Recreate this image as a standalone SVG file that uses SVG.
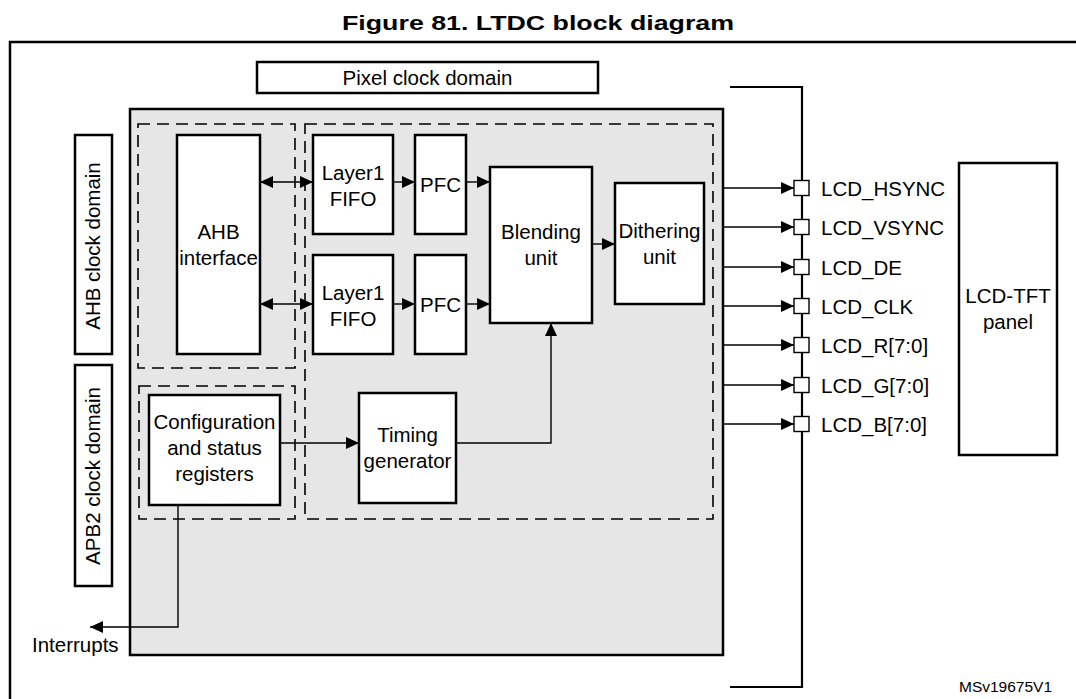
<svg xmlns="http://www.w3.org/2000/svg" width="1076" height="699" viewBox="0 0 1076 699">
<style>
text{font-family:"Liberation Sans",Arial,sans-serif;font-size:20.5px;fill:#000}
.c{text-anchor:middle}
.box{fill:#fff;stroke:#000;stroke-width:2.5}
.dash{fill:none;stroke:#000;stroke-width:1.6;stroke-dasharray:12 7}
.ln{fill:none;stroke:#000;stroke-width:1.4}
.pin{fill:#fff;stroke:#000;stroke-width:1.4}
</style>
<defs>
<marker id="ah" markerUnits="userSpaceOnUse" markerWidth="13" markerHeight="12" refX="13" refY="6" orient="auto-start-reverse"><path d="M0,0 L13,6 L0,12 z" fill="#000"/></marker>
</defs>
<rect width="1076" height="699" fill="#fff"/>
<text x="538" y="30" class="c" style="font-weight:bold;font-size:21px" textLength="392" lengthAdjust="spacingAndGlyphs">Figure 81. LTDC block diagram</text>
<path d="M10,699 V42 H1076" fill="none" stroke="#000" stroke-width="2.5"/>

<g id="pixel-domain-label"><rect x="257" y="62" width="341" height="31" class="box"/><text x="427.5" y="85" class="c">Pixel clock domain</text></g>
<g id="ahb-domain-label"><rect x="75" y="135" width="37" height="219" class="box"/><text transform="translate(100,246) rotate(-90)" class="c">AHB clock domain</text></g>
<g id="apb2-domain-label"><rect x="75" y="365" width="37" height="221" class="box"/><text transform="translate(100,476) rotate(-90)" class="c">APB2 clock domain</text></g>

<g id="ltdc"><rect x="130" y="109" width="593" height="546" fill="#e6e6e6" stroke="#000" stroke-width="2.5"/></g>
<g id="ahb-zone"><rect x="138" y="124" width="157" height="244" class="dash"/></g>
<g id="apb-zone"><rect x="139" y="386" width="156" height="133" class="dash"/></g>
<g id="pixel-zone"><rect x="305" y="124" width="408" height="395" class="dash"/></g>

<g id="ahb-interface"><rect x="177" y="135" width="83" height="219" class="box"/><text x="218.5" y="239" class="c">AHB</text><text x="218.5" y="265" class="c">interface</text></g>
<g id="fifo1"><rect x="313" y="135" width="80" height="99" class="box"/><text x="353" y="180" class="c">Layer1</text><text x="353" y="206" class="c">FIFO</text></g>
<g id="fifo2"><rect x="313" y="255" width="80" height="99" class="box"/><text x="353" y="300" class="c">Layer1</text><text x="353" y="326" class="c">FIFO</text></g>
<g id="pfc1"><rect x="415" y="135" width="51" height="99" class="box"/><text x="440.5" y="192" class="c">PFC</text></g>
<g id="pfc2"><rect x="415" y="255" width="51" height="99" class="box"/><text x="440.5" y="312" class="c">PFC</text></g>
<g id="blending"><rect x="490" y="167" width="102" height="156" class="box"/><text x="541" y="239" class="c">Blending</text><text x="541" y="265" class="c">unit</text></g>
<g id="dithering"><rect x="615" y="183" width="89" height="121" class="box"/><text x="659.5" y="238" class="c">Dithering</text><text x="659.5" y="264" class="c">unit</text></g>
<g id="config"><rect x="149" y="395" width="131" height="110" class="box"/><text x="214.5" y="429" class="c">Configuration</text><text x="214.5" y="455" class="c">and status</text><text x="214.5" y="481" class="c">registers</text></g>
<g id="timing"><rect x="359" y="393" width="97" height="110" class="box"/><text x="407.5" y="442" class="c">Timing</text><text x="407.5" y="468" class="c">generator</text></g>
<g id="panel"><rect x="959" y="163" width="98" height="292" class="box"/><text x="1008" y="303" class="c">LCD-TFT</text><text x="1008" y="329" class="c">panel</text></g>
<g id="interrupts"><text x="32" y="652">Interrupts</text></g>
<g id="bus"><path d="M730,87 H802 V687 H730" fill="none" stroke="#000" stroke-width="2.2"/></g>

<g id="connectors">
<path d="M260,182 H313" class="ln" marker-start="url(#ah)" marker-end="url(#ah)"/>
<path d="M260,304 H313" class="ln" marker-start="url(#ah)" marker-end="url(#ah)"/>
<path d="M393,182 H415" class="ln" marker-end="url(#ah)"/>
<path d="M393,304 H415" class="ln" marker-end="url(#ah)"/>
<path d="M466,182 H490" class="ln" marker-end="url(#ah)"/>
<path d="M466,304 H490" class="ln" marker-end="url(#ah)"/>
<path d="M592,244 H615" class="ln" marker-end="url(#ah)"/>
<path d="M280,443 H359" class="ln" marker-end="url(#ah)"/>
<path d="M456,443 H551 V323" class="ln" marker-end="url(#ah)"/>
<path d="M178,505 V627 H90" class="ln" marker-end="url(#ah)"/>
<path d="M723,188 H794" class="ln" marker-end="url(#ah)"/>
<path d="M723,227 H794" class="ln" marker-end="url(#ah)"/>
<path d="M723,267 H794" class="ln" marker-end="url(#ah)"/>
<path d="M723,306 H794" class="ln" marker-end="url(#ah)"/>
<path d="M723,345 H794" class="ln" marker-end="url(#ah)"/>
<path d="M723,385 H794" class="ln" marker-end="url(#ah)"/>
<path d="M723,424 H794" class="ln" marker-end="url(#ah)"/>
</g>

<g id="pins">
<rect x="794" y="180.5" width="15" height="15" class="pin"/><text x="821" y="195.5">LCD_HSYNC</text>
<rect x="794" y="219.5" width="15" height="15" class="pin"/><text x="821" y="234.5">LCD_VSYNC</text>
<rect x="794" y="259.5" width="15" height="15" class="pin"/><text x="821" y="274.5">LCD_DE</text>
<rect x="794" y="298.5" width="15" height="15" class="pin"/><text x="821" y="313.5">LCD_CLK</text>
<rect x="794" y="337.5" width="15" height="15" class="pin"/><text x="821" y="352.5">LCD_R[7:0]</text>
<rect x="794" y="377.5" width="15" height="15" class="pin"/><text x="821" y="392.5">LCD_G[7:0]</text>
<rect x="794" y="416.5" width="15" height="15" class="pin"/><text x="821" y="431.5">LCD_B[7:0]</text>
</g>
<text x="959" y="692" style="font-size:15.5px">MSv19675V1</text>
</svg>
